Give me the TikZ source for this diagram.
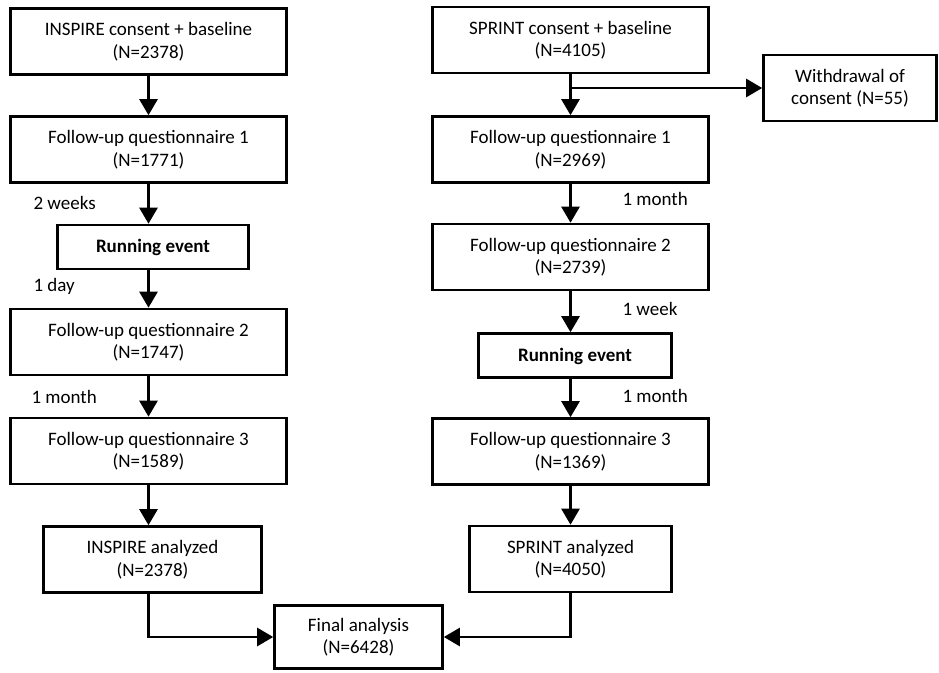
\documentclass[tikz,border=0pt]{standalone}
\usepackage{fontspec}
\setmainfont{Carlito}
\usepackage{tikz}
\usetikzlibrary{arrows.meta}

\begin{document}
\begin{tikzpicture}[x=1pt,y=-1pt,>={Triangle[length=16pt,width=18pt]}]
	\tikzset{box/.style={draw,line width=2.6pt,align=center,inner sep=0pt,
		font=\fontsize{19}{22.5}\selectfont,minimum height=66pt,text depth=2pt}}
	\tikzset{wide/.style={box,minimum width=276pt}}
	\tikzset{gap/.style={anchor=west,font=\fontsize{19}{22.5}\selectfont}}
	\tikzset{flow/.style={->,line width=2.6pt}}
	\useasboundingbox (0,0) rectangle (939,672);

	% INSPIRE
	\node[wide] (ins0) at (148.5,41.5) {INSPIRE consent + baseline\\(N=2378)};
	\node[wide] (ins1) at (148.5,149.5) {Follow-up questionnaire 1\\(N=1771)};
	\node[box,minimum width=191pt,minimum height=44pt,font=\fontsize{19}{22.5}\selectfont\bfseries] (insrun) at (153,247) {Running event};
	\node[wide] (ins2) at (148.5,342) {Follow-up questionnaire 2\\(N=1747)};
	\node[wide] (ins3) at (148.5,451) {Follow-up questionnaire 3\\(N=1589)};
	\node[box,minimum width=218pt] (insan) at (152.5,559.5) {INSPIRE analyzed\\(N=2378)};

	% SPRINT
	\node[wide] (spr0) at (570.5,40) {SPRINT consent + baseline\\(N=4105)};
	\node[box,minimum width=173pt] (wd) at (850,88) {Withdrawal of\\consent (N=55)};
	\node[wide] (spr1) at (570.5,149.5) {Follow-up questionnaire 1\\(N=2969)};
	\node[wide] (spr2) at (570.5,257) {Follow-up questionnaire 2\\(N=2739)};
	\node[box,minimum width=193pt,minimum height=44pt,font=\fontsize{19}{22.5}\selectfont\bfseries] (sprrun) at (575,355.5) {Running event};
	\node[wide] (spr3) at (570.5,451.5) {Follow-up questionnaire 3\\(N=1369)};
	\node[box,minimum width=202pt] (spran) at (570.5,559) {SPRINT analyzed\\(N=4050)};

	\node[box,minimum width=168pt,minimum height=63pt] (final) at (358.5,637) {Final analysis\\(N=6428)};

	% time gaps
	\node[gap] (g1) at (30,203) {2 weeks};
	\node[gap] (g2) at (30,286) {1 day};
	\node[gap] (g3) at (28,397) {1 month};
	\node[gap] (g4) at (619,199) {1 month};
	\node[gap] (g5) at (619,309) {1 week};
	\node[gap] (g6) at (619,396) {1 month};

	\coordinate (split) at (spr0.south |- wd);

	\draw[flow] (ins0) -- (ins1);
	\draw[flow] (ins1.south) -- (ins1.south |- insrun.north);
	\draw[flow] (ins1.south |- insrun.south) -- (ins2.north);
	\draw[flow] (ins2) -- (ins3);
	\draw[flow] (ins3.south) -- (ins3.south |- insan.north);
	\draw[flow] (ins3.south |- insan.south) |- (final.west);

	\draw[flow] (spr0) -- (spr1);
	\draw[flow] (split) -- (wd.west);
	\draw[flow] (spr1) -- (spr2);
	\draw[flow] (spr2.south) -- (spr2.south |- sprrun.north);
	\draw[flow] (spr2.south |- sprrun.south) -- (spr3.north);
	\draw[flow] (spr3) -- (spran);
	\draw[flow] (spran.south) |- (final.east);
\end{tikzpicture}
\end{document}
